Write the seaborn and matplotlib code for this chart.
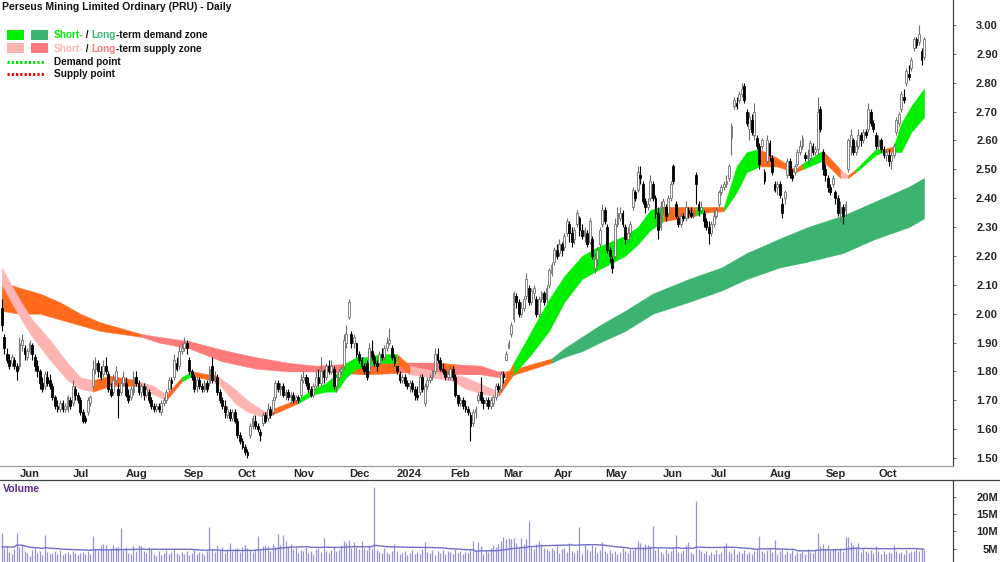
import numpy as np
import pandas as pd
import matplotlib
matplotlib.use('Agg')
import matplotlib.pyplot as plt
from matplotlib.lines import Line2D
from matplotlib.patches import Rectangle
import seaborn as sns

# --- DATA ---
FIRST_DAY, LAST_DAY = '2023-05-23', '2024-10-25'
ASX_HOLIDAYS = ['2023-06-12', '2023-12-25', '2023-12-26', '2024-01-01', '2024-01-26',
                '2024-03-29', '2024-04-01', '2024-04-25', '2024-06-10']
month_labels = ['Jun', 'Jul', 'Aug', 'Sep', 'Oct', 'Nov', 'Dec', '2024', 'Feb', 'Mar',
                'Apr', 'May', 'Jun', 'Jul', 'Aug', 'Sep', 'Oct']
price_ticks = [1.5, 1.6, 1.7, 1.8, 1.9, 2.0, 2.1, 2.2, 2.3, 2.4, 2.5, 2.6, 2.7, 2.8, 2.9, 3.0]
volume_ticks = [5, 10, 15, 20]

open_ = [2.02, 1.92, 1.86, 1.84, 1.83, 1.84, 1.82,
         1.82, 1.89, 1.88, 1.85, 1.87, 1.89, 1.85, 1.82, 1.80, 1.76, 1.75, 1.78, 1.77, 1.75, 1.71, 1.68, 1.67, 1.69, 1.67, 1.67, 1.70,
         1.69, 1.74, 1.72, 1.70, 1.66, 1.64, 1.66, 1.69, 1.75, 1.81, 1.83, 1.80, 1.79, 1.82, 1.79, 1.74, 1.73, 1.77, 1.74, 1.73, 1.76,
         1.76, 1.72, 1.71, 1.73, 1.78, 1.76, 1.73, 1.75, 1.72, 1.73, 1.70, 1.68, 1.67, 1.68, 1.66, 1.69, 1.70, 1.74, 1.77, 1.78, 1.83, 1.82, 1.87,
         1.88, 1.90, 1.84, 1.80, 1.78, 1.75, 1.77, 1.75, 1.74, 1.76, 1.76, 1.82, 1.77, 1.78, 1.73, 1.70, 1.68, 1.65, 1.66, 1.64, 1.66,
         1.63, 1.58, 1.56, 1.54, 1.52, 1.58, 1.61, 1.63, 1.61, 1.59, 1.62, 1.65, 1.64, 1.67, 1.66, 1.71, 1.76, 1.74, 1.75, 1.72, 1.73, 1.71,
         1.72, 1.70, 1.71, 1.72, 1.77, 1.78, 1.76, 1.74, 1.72, 1.75, 1.78, 1.76, 1.80, 1.78, 1.82, 1.80, 1.81, 1.75, 1.78, 1.80, 1.82, 1.90,
         1.99, 1.93, 1.90, 1.90, 1.86, 1.84, 1.82, 1.83, 1.80, 1.87, 1.85, 1.83, 1.83, 1.86, 1.85, 1.88, 1.90, 1.88, 1.85,
         1.82, 1.79, 1.77, 1.78, 1.76, 1.75, 1.76, 1.74, 1.72, 1.73, 1.78, 1.69, 1.75, 1.77, 1.78, 1.80, 1.86, 1.84, 1.81, 1.80, 1.78,
         1.78, 1.81, 1.78, 1.72, 1.69, 1.70, 1.68, 1.67, 1.65, 1.62, 1.66, 1.70, 1.73, 1.70, 1.69, 1.70, 1.68, 1.69, 1.71, 1.75, 1.74,
         1.79, 1.84, 1.88, 1.93, 1.98, 2.06, 2.04, 2.00, 2.02, 2.06, 2.09, 2.04, 2.07, 2.05, 2.00, 2.05, 2.07, 2.05, 2.10, 2.14,
         2.18, 2.22, 2.21, 2.24, 2.23, 2.28, 2.31, 2.28, 2.26, 2.31, 2.33, 2.29, 2.27, 2.28, 2.25, 2.26, 2.16, 2.19, 2.24, 2.31,
         2.36, 2.30, 2.22, 2.19, 2.20, 2.31, 2.33, 2.35, 2.30, 2.26, 2.28, 2.37, 2.42, 2.43, 2.48, 2.45, 2.39, 2.37, 2.40, 2.45,
         2.40, 2.35, 2.30, 2.37, 2.37, 2.35, 2.40, 2.51, 2.38, 2.33, 2.31, 2.34, 2.33, 2.36, 2.35, 2.34, 2.48, 2.38, 2.36, 2.35, 2.32, 2.30,
         2.28, 2.31, 2.34, 2.38, 2.42, 2.44, 2.45, 2.47, 2.61, 2.72, 2.73, 2.74, 2.76, 2.79, 2.70, 2.64, 2.67, 2.62, 2.61, 2.58, 2.58, 2.49, 2.53,
         2.59, 2.54, 2.45, 2.44, 2.45, 2.38, 2.40, 2.48, 2.53, 2.48, 2.49, 2.52, 2.56, 2.58, 2.55, 2.54, 2.54, 2.58, 2.56, 2.57, 2.71, 2.56,
         2.50, 2.47, 2.44, 2.45, 2.42, 2.40, 2.35, 2.37, 2.36, 2.50, 2.58, 2.60, 2.56, 2.58, 2.62, 2.60, 2.63, 2.64, 2.70, 2.66, 2.62,
         2.58, 2.60, 2.57, 2.55, 2.55, 2.53, 2.55, 2.63, 2.66, 2.71, 2.75, 2.80, 2.83, 2.85, 2.92, 2.95, 2.94, 2.91, 2.89]
high = [2.05, 1.93, 1.88, 1.86, 1.86, 1.85, 1.83,
        1.92, 1.93, 1.89, 1.88, 1.91, 1.90, 1.86, 1.84, 1.81, 1.78, 1.80, 1.80, 1.79, 1.76, 1.72, 1.70, 1.70, 1.70, 1.69, 1.72, 1.71,
        1.77, 1.75, 1.73, 1.71, 1.67, 1.65, 1.71, 1.72, 1.84, 1.85, 1.84, 1.82, 1.84, 1.85, 1.80, 1.76, 1.79, 1.82, 1.76, 1.77, 1.80,
        1.78, 1.74, 1.75, 1.80, 1.80, 1.77, 1.76, 1.76, 1.75, 1.74, 1.71, 1.69, 1.69, 1.69, 1.70, 1.71, 1.74, 1.78, 1.78, 1.86, 1.85, 1.89, 1.90,
        1.92, 1.91, 1.85, 1.81, 1.79, 1.78, 1.78, 1.76, 1.77, 1.77, 1.82, 1.85, 1.80, 1.79, 1.74, 1.71, 1.70, 1.68, 1.67, 1.67, 1.67,
        1.64, 1.59, 1.57, 1.55, 1.53, 1.62, 1.65, 1.65, 1.62, 1.60, 1.66, 1.66, 1.69, 1.68, 1.71, 1.77, 1.77, 1.76, 1.76, 1.74, 1.74, 1.73,
        1.73, 1.72, 1.72, 1.79, 1.80, 1.79, 1.78, 1.75, 1.76, 1.80, 1.81, 1.85, 1.81, 1.83, 1.84, 1.84, 1.82, 1.79, 1.81, 1.82, 1.93, 1.96,
        2.05, 1.94, 1.93, 1.90, 1.87, 1.85, 1.83, 1.84, 1.90, 1.91, 1.86, 1.84, 1.87, 1.88, 1.89, 1.92, 1.95, 1.89, 1.86,
        1.82, 1.80, 1.79, 1.79, 1.77, 1.77, 1.77, 1.75, 1.75, 1.79, 1.79, 1.76, 1.78, 1.79, 1.81, 1.88, 1.88, 1.85, 1.83, 1.81, 1.80,
        1.82, 1.82, 1.79, 1.72, 1.71, 1.71, 1.70, 1.68, 1.66, 1.67, 1.68, 1.73, 1.78, 1.71, 1.71, 1.71, 1.71, 1.72, 1.76, 1.76, 1.80,
        1.80, 1.87, 1.91, 1.97, 2.08, 2.07, 2.05, 2.04, 2.06, 2.14, 2.10, 2.09, 2.10, 2.06, 2.06, 2.08, 2.08, 2.10, 2.16, 2.18,
        2.23, 2.24, 2.26, 2.25, 2.28, 2.33, 2.32, 2.30, 2.30, 2.36, 2.34, 2.31, 2.30, 2.29, 2.33, 2.27, 2.21, 2.23, 2.30, 2.38,
        2.37, 2.31, 2.23, 2.20, 2.33, 2.37, 2.37, 2.36, 2.31, 2.30, 2.32, 2.44, 2.43, 2.51, 2.51, 2.46, 2.40, 2.40, 2.48, 2.46,
        2.41, 2.37, 2.39, 2.40, 2.38, 2.41, 2.46, 2.52, 2.39, 2.34, 2.35, 2.35, 2.39, 2.37, 2.37, 2.36, 2.49, 2.39, 2.39, 2.36, 2.33, 2.32,
        2.32, 2.36, 2.37, 2.43, 2.45, 2.46, 2.48, 2.52, 2.66, 2.75, 2.75, 2.77, 2.80, 2.80, 2.71, 2.70, 2.69, 2.73, 2.62, 2.59, 2.61, 2.50, 2.62,
        2.60, 2.55, 2.46, 2.46, 2.46, 2.40, 2.43, 2.54, 2.54, 2.50, 2.52, 2.57, 2.60, 2.62, 2.56, 2.57, 2.60, 2.59, 2.58, 2.75, 2.72, 2.57,
        2.52, 2.48, 2.45, 2.48, 2.43, 2.41, 2.39, 2.38, 2.39, 2.61, 2.64, 2.61, 2.60, 2.64, 2.63, 2.64, 2.64, 2.73, 2.71, 2.67, 2.63,
        2.62, 2.61, 2.58, 2.57, 2.57, 2.56, 2.59, 2.68, 2.70, 2.77, 2.78, 2.85, 2.86, 2.89, 2.96, 2.96, 3.00, 2.92, 2.96]
low = [1.94, 1.86, 1.83, 1.81, 1.82, 1.81, 1.77,
       1.81, 1.87, 1.84, 1.84, 1.86, 1.84, 1.80, 1.78, 1.74, 1.73, 1.74, 1.75, 1.74, 1.70, 1.67, 1.66, 1.66, 1.66, 1.66, 1.66, 1.67,
       1.68, 1.70, 1.69, 1.65, 1.62, 1.62, 1.65, 1.68, 1.74, 1.79, 1.78, 1.77, 1.78, 1.79, 1.73, 1.71, 1.72, 1.76, 1.64, 1.72, 1.75,
       1.71, 1.69, 1.70, 1.72, 1.75, 1.72, 1.71, 1.70, 1.71, 1.69, 1.67, 1.66, 1.66, 1.66, 1.65, 1.68, 1.69, 1.73, 1.74, 1.77, 1.80, 1.81, 1.86,
       1.87, 1.86, 1.79, 1.77, 1.73, 1.73, 1.74, 1.73, 1.73, 1.73, 1.75, 1.76, 1.76, 1.72, 1.69, 1.67, 1.64, 1.64, 1.63, 1.63, 1.62,
       1.57, 1.55, 1.53, 1.51, 1.50, 1.57, 1.60, 1.60, 1.59, 1.56, 1.61, 1.62, 1.63, 1.64, 1.65, 1.70, 1.73, 1.72, 1.71, 1.70, 1.70, 1.69,
       1.69, 1.69, 1.69, 1.71, 1.76, 1.75, 1.73, 1.71, 1.71, 1.74, 1.75, 1.75, 1.76, 1.77, 1.79, 1.79, 1.74, 1.73, 1.77, 1.79, 1.81, 1.88,
       1.98, 1.88, 1.88, 1.85, 1.83, 1.81, 1.79, 1.77, 1.79, 1.84, 1.82, 1.80, 1.82, 1.84, 1.84, 1.87, 1.89, 1.84, 1.82,
       1.79, 1.76, 1.76, 1.75, 1.74, 1.73, 1.73, 1.70, 1.70, 1.72, 1.73, 1.68, 1.74, 1.76, 1.77, 1.79, 1.83, 1.80, 1.79, 1.77, 1.77,
       1.77, 1.77, 1.71, 1.68, 1.68, 1.67, 1.66, 1.65, 1.56, 1.61, 1.64, 1.69, 1.69, 1.67, 1.68, 1.67, 1.67, 1.68, 1.70, 1.73, 1.73,
       1.76, 1.84, 1.88, 1.92, 1.97, 2.02, 1.99, 1.99, 2.01, 2.05, 2.03, 2.03, 2.05, 1.99, 1.99, 2.04, 2.03, 2.04, 2.09, 2.13,
       2.17, 2.19, 2.20, 2.20, 2.22, 2.27, 2.25, 2.23, 2.24, 2.30, 2.27, 2.26, 2.25, 2.23, 2.24, 2.19, 2.14, 2.17, 2.23, 2.30,
       2.31, 2.21, 2.18, 2.14, 2.19, 2.30, 2.32, 2.30, 2.24, 2.25, 2.27, 2.36, 2.39, 2.42, 2.45, 2.38, 2.35, 2.36, 2.39, 2.39,
       2.33, 2.26, 2.29, 2.35, 2.32, 2.34, 2.39, 2.45, 2.33, 2.30, 2.30, 2.32, 2.32, 2.33, 2.33, 2.33, 2.38, 2.34, 2.35, 2.30, 2.29, 2.24,
       2.27, 2.30, 2.33, 2.37, 2.41, 2.43, 2.44, 2.46, 2.55, 2.71, 2.71, 2.73, 2.75, 2.73, 2.65, 2.60, 2.62, 2.60, 2.57, 2.50, 2.57, 2.45, 2.52,
       2.53, 2.48, 2.42, 2.41, 2.40, 2.33, 2.38, 2.47, 2.47, 2.46, 2.48, 2.51, 2.55, 2.57, 2.53, 2.52, 2.53, 2.55, 2.55, 2.55, 2.63, 2.48,
       2.46, 2.42, 2.41, 2.44, 2.38, 2.34, 2.32, 2.31, 2.34, 2.49, 2.55, 2.55, 2.55, 2.57, 2.58, 2.59, 2.61, 2.63, 2.65, 2.63, 2.57,
       2.57, 2.56, 2.54, 2.53, 2.51, 2.50, 2.54, 2.62, 2.65, 2.70, 2.73, 2.79, 2.81, 2.84, 2.91, 2.92, 2.93, 2.86, 2.88]
close = [1.96, 1.88, 1.84, 1.82, 1.85, 1.82, 1.80,
         1.90, 1.91, 1.86, 1.87, 1.90, 1.86, 1.82, 1.80, 1.76, 1.74, 1.79, 1.76, 1.75, 1.71, 1.68, 1.67, 1.69, 1.67, 1.68, 1.71, 1.68,
         1.75, 1.72, 1.70, 1.66, 1.63, 1.63, 1.70, 1.71, 1.81, 1.83, 1.80, 1.78, 1.82, 1.80, 1.74, 1.72, 1.77, 1.80, 1.72, 1.76, 1.78,
         1.72, 1.70, 1.74, 1.78, 1.76, 1.73, 1.75, 1.72, 1.74, 1.70, 1.68, 1.67, 1.68, 1.67, 1.69, 1.70, 1.73, 1.77, 1.76, 1.84, 1.81, 1.87, 1.88,
         1.90, 1.88, 1.80, 1.78, 1.74, 1.77, 1.75, 1.74, 1.76, 1.74, 1.81, 1.77, 1.78, 1.73, 1.70, 1.68, 1.66, 1.67, 1.64, 1.66, 1.63,
         1.58, 1.56, 1.54, 1.52, 1.51, 1.61, 1.64, 1.61, 1.60, 1.58, 1.65, 1.63, 1.67, 1.65, 1.70, 1.76, 1.74, 1.75, 1.72, 1.73, 1.71, 1.72,
         1.70, 1.71, 1.70, 1.77, 1.78, 1.76, 1.74, 1.72, 1.75, 1.78, 1.76, 1.80, 1.78, 1.82, 1.80, 1.82, 1.75, 1.78, 1.80, 1.81, 1.91, 1.93,
         2.04, 1.90, 1.92, 1.86, 1.84, 1.82, 1.80, 1.78, 1.88, 1.85, 1.83, 1.82, 1.86, 1.85, 1.88, 1.90, 1.91, 1.85, 1.83,
         1.80, 1.77, 1.78, 1.76, 1.75, 1.76, 1.74, 1.72, 1.71, 1.78, 1.74, 1.75, 1.77, 1.78, 1.80, 1.86, 1.84, 1.81, 1.80, 1.78, 1.79,
         1.81, 1.78, 1.72, 1.69, 1.70, 1.68, 1.67, 1.66, 1.61, 1.66, 1.67, 1.72, 1.70, 1.69, 1.70, 1.68, 1.70, 1.71, 1.75, 1.74, 1.79,
         1.78, 1.86, 1.90, 1.96, 2.07, 2.04, 2.00, 2.02, 2.05, 2.12, 2.04, 2.08, 2.09, 2.00, 2.05, 2.07, 2.04, 2.09, 2.15, 2.17,
         2.22, 2.20, 2.24, 2.22, 2.27, 2.32, 2.28, 2.25, 2.29, 2.35, 2.29, 2.27, 2.29, 2.24, 2.32, 2.20, 2.19, 2.22, 2.29, 2.36,
         2.32, 2.22, 2.20, 2.16, 2.31, 2.35, 2.35, 2.31, 2.26, 2.28, 2.31, 2.43, 2.40, 2.49, 2.47, 2.39, 2.37, 2.38, 2.46, 2.40,
         2.35, 2.29, 2.37, 2.39, 2.34, 2.40, 2.45, 2.46, 2.34, 2.31, 2.34, 2.33, 2.37, 2.35, 2.34, 2.35, 2.45, 2.36, 2.37, 2.32, 2.30, 2.28,
         2.31, 2.34, 2.36, 2.42, 2.44, 2.45, 2.46, 2.51, 2.65, 2.74, 2.72, 2.76, 2.78, 2.74, 2.66, 2.68, 2.63, 2.70, 2.58, 2.52, 2.60, 2.46, 2.60,
         2.55, 2.49, 2.43, 2.45, 2.41, 2.35, 2.42, 2.53, 2.48, 2.47, 2.51, 2.56, 2.58, 2.61, 2.54, 2.55, 2.59, 2.56, 2.57, 2.70, 2.64, 2.50,
         2.48, 2.44, 2.42, 2.47, 2.40, 2.35, 2.37, 2.34, 2.38, 2.60, 2.62, 2.56, 2.58, 2.62, 2.60, 2.63, 2.62, 2.71, 2.66, 2.64, 2.58,
         2.60, 2.57, 2.55, 2.56, 2.53, 2.55, 2.58, 2.67, 2.69, 2.76, 2.74, 2.84, 2.82, 2.88, 2.95, 2.93, 2.97, 2.88, 2.95]
volume_m = [9.5, 5.2, 5.8, 4.1, 3.6, 4.8, 9.6,
            5.5, 6.0, 4.2, 3.8, 3.0, 4.6, 5.1, 3.9, 4.4, 3.3, 9.0, 4.0, 3.4, 3.9, 4.2, 3.6, 4.5, 3.1, 3.8, 4.0, 3.5,
            4.3, 3.9, 3.2, 3.8, 4.1, 3.6, 4.4, 3.4, 8.6, 5.0, 4.7, 6.0, 6.3, 6.2, 4.8, 5.1, 6.1, 5.5, 5.6, 11.0, 4.6,
            5.4, 3.9, 3.4, 5.8, 4.4, 6.0, 5.9, 4.3, 3.8, 5.5, 4.9, 3.6, 3.0, 4.2, 3.3, 3.8, 4.6, 3.5, 4.0, 4.8, 3.7, 3.1, 4.1,
            3.6, 4.3, 3.2, 3.9, 4.5, 3.4, 4.1, 3.7, 3.3, 4.4, 11.3, 5.0, 4.1, 6.2, 4.6, 5.4, 3.9, 4.8, 6.6, 4.2, 5.0,
            5.3, 4.0, 5.5, 6.1, 5.2, 4.5, 4.1, 5.0, 8.7, 4.6, 5.9, 6.0, 5.8, 4.3, 6.3, 5.6, 9.2, 6.0, 8.9, 7.1, 5.4, 6.4,
            4.8, 5.6, 3.9, 4.7, 4.2, 5.5, 3.8, 4.4, 3.6, 4.9, 5.1, 4.0, 8.0, 4.3, 3.9, 4.7, 5.4, 4.2, 4.6, 6.0, 7.2, 6.6,
            7.5, 5.1, 6.8, 5.5, 4.8, 7.3, 5.2, 4.5, 6.1, 5.0, 22.8, 4.6, 4.0, 3.7, 5.3, 4.1, 3.6, 4.2, 6.5,
            4.3, 3.5, 3.9, 4.4, 3.2, 3.8, 4.6, 3.4, 4.0, 3.6, 4.8, 7.0, 4.1, 3.7, 4.5, 3.3, 4.2, 3.9, 4.7, 3.5, 4.4,
            4.0, 3.6, 4.9, 3.8, 4.3, 3.5, 4.1, 3.9, 4.5, 7.3, 4.2, 7.0, 5.8, 3.6, 4.7, 4.0, 5.2, 6.0, 5.5, 6.3, 7.2,
            8.3, 7.9, 8.1, 7.8, 8.0, 6.6, 5.6, 8.2, 6.4, 7.8, 13.0, 5.4, 4.9, 6.3, 7.1, 6.5, 5.2, 4.8, 4.4, 5.3,
            4.6, 6.0, 3.9, 4.8, 5.2, 4.1, 6.7, 4.3, 3.8, 4.5, 11.4, 3.6, 6.4, 5.0, 4.2, 6.1, 5.6, 3.8, 4.7, 7.0,
            4.2, 3.9, 4.6, 3.7, 4.3, 3.5, 4.0, 5.1, 4.4, 3.8, 5.0, 4.6, 5.3, 7.2, 6.6, 5.4, 6.4, 6.0, 5.8, 11.6,
            4.5, 5.2, 4.0, 3.6, 4.8, 3.9, 4.3, 5.5, 9.0, 4.1, 3.7, 4.6, 6.2, 6.8, 4.0, 3.5, 18.8, 4.9, 4.2, 3.8, 4.4, 3.3,
            4.0, 3.6, 4.5, 3.4, 4.1, 5.9, 6.6, 4.2, 3.9, 4.8, 3.5, 4.3, 3.8, 4.7, 3.6, 4.1, 3.4, 4.4, 5.0, 8.7, 4.2, 3.7, 4.6,
            5.3, 4.0, 7.5, 3.6, 4.4, 4.9, 3.5, 4.2, 3.8, 4.5, 3.3, 4.0, 3.7, 4.3, 3.6, 4.8, 4.1, 3.9, 4.6, 9.5, 5.8, 6.4,
            5.0, 6.2, 4.6, 4.8, 5.3, 4.2, 5.1, 4.4, 8.5, 8.4, 7.0, 6.2, 5.4, 6.6, 4.1, 5.0, 4.3, 3.9, 4.6, 3.7, 5.9,
            4.2, 3.6, 4.4, 3.5, 4.0, 3.8, 6.0, 4.3, 3.7, 4.1, 3.5, 4.6, 3.9, 4.2, 4.4, 5.0, 4.3, 5.3, 4.6]

# short-term zone edges read at these bar numbers; state D=demand, S=supply, N=neutral
short_bar = [0, 7, 12, 19, 26, 31, 36, 43, 53, 60, 65, 71, 75, 85, 92, 97, 104, 117, 123, 128,
             132, 136, 140, 145, 150, 156, 161, 177, 183, 191, 196, 202, 209, 216, 222, 229, 235, 246, 251, 256,
             261, 274, 277, 285, 290, 294, 299, 306, 313, 316, 324, 331, 334, 337, 345, 348, 352, 355, 359, 364]
short_top = [2.16, 2.05, 1.98, 1.91, 1.83, 1.78, 1.77, 1.785, 1.77, 1.75, 1.72, 1.78, 1.80, 1.785, 1.74, 1.70, 1.66, 1.705, 1.74, 1.76,
             1.79, 1.83, 1.85, 1.85, 1.86, 1.86, 1.82, 1.79, 1.78, 1.75, 1.73, 1.83, 1.94, 2.05, 2.13, 2.20, 2.23, 2.27, 2.30, 2.36,
             2.37, 2.37, 2.37, 2.37, 2.51, 2.56, 2.57, 2.54, 2.50, 2.52, 2.565, 2.50, 2.48, 2.50, 2.57, 2.57, 2.58, 2.66, 2.72, 2.78]
short_bot = [2.10, 1.99, 1.92, 1.84, 1.77, 1.74, 1.73, 1.75, 1.75, 1.72, 1.70, 1.765, 1.785, 1.765, 1.69, 1.66, 1.64, 1.69, 1.72, 1.73,
             1.73, 1.78, 1.81, 1.82, 1.83, 1.83, 1.79, 1.77, 1.74, 1.72, 1.715, 1.79, 1.86, 1.94, 2.04, 2.12, 2.15, 2.20, 2.24, 2.29,
             2.32, 2.34, 2.35, 2.355, 2.42, 2.49, 2.51, 2.51, 2.49, 2.50, 2.53, 2.47, 2.47, 2.49, 2.55, 2.56, 2.56, 2.56, 2.63, 2.68]
short_state = ['S', 'S', 'S', 'S', 'S', 'S', 'N', 'N', 'S', 'S', 'N', 'D', 'N', 'S', 'S', 'S', 'N', 'D', 'D', 'D',
               'D', 'D', 'D', 'D', 'D', 'N', 'S', 'S', 'S', 'S', 'N', 'D', 'D', 'D', 'D', 'D', 'D', 'D', 'D', 'D',
               'N', 'D', 'N', 'D', 'D', 'D', 'N', 'N', 'N', 'D', 'N', 'S', 'N', 'D', 'D', 'N', 'D', 'D', 'D', 'D']

long_bar = [0, 7, 15, 23, 31, 39, 47, 55, 62, 74, 87, 100, 113, 124, 134, 143, 157, 173, 179, 189,
            196, 199, 217, 222, 229, 236, 246, 257, 271, 284, 294, 307, 318, 332, 345, 358, 364]
long_top = [2.11, 2.09, 2.07, 2.04, 2.00, 1.97, 1.95, 1.93, 1.92, 1.905, 1.875, 1.85, 1.83, 1.82, 1.825, 1.83, 1.83, 1.83, 1.825, 1.82,
            1.80, 1.80, 1.845, 1.88, 1.92, 1.96, 2.01, 2.07, 2.12, 2.16, 2.21, 2.26, 2.30, 2.34, 2.39, 2.44, 2.47]
long_bot = [2.01, 2.00, 2.00, 1.98, 1.96, 1.94, 1.93, 1.92, 1.90, 1.88, 1.835, 1.81, 1.80, 1.80, 1.795, 1.79, 1.795, 1.795, 1.79, 1.79,
            1.78, 1.78, 1.83, 1.85, 1.87, 1.90, 1.94, 2.00, 2.04, 2.08, 2.12, 2.16, 2.18, 2.21, 2.26, 2.30, 2.33]
long_state = ['N', 'N', 'N', 'N', 'N', 'N', 'N', 'S', 'S', 'S', 'S', 'S', 'S', 'S', 'N', 'N', 'S', 'N', 'S', 'S',
              'S', 'N', 'D', 'D', 'D', 'D', 'D', 'D', 'D', 'D', 'D', 'D', 'D', 'D', 'D', 'D', 'D']

# --- STYLE ---
W, H = 1000, 562
SHORT_COLORS = {'D': '#00f000', 'S': '#ffb4b4', 'N': '#ff6a1c'}
LONG_COLORS = {'D': '#3cb371', 'S': '#ff7a7a', 'N': '#ff6a1c'}
FONT = ['Liberation Sans', 'DejaVu Sans']


def fx(x):
    return x / W


def fy(y):
    return 1 - y / H


def draw_zone(ax, bars, top, bot, states, colors):
    # one polygon per run of equal state
    i = 0
    n = len(bars)
    while i < n - 1:
        j = i
        while j < n - 2 and states[j + 1] == states[i]:
            j += 1
        c = colors[states[i]]
        ax.fill_between(bars[i:j + 2], bot[i:j + 2], top[i:j + 2], color=c, ec=c, lw=0.3, zorder=1)
        i = j + 1


def color_text(fig, x, y, parts, size):
    r = fig.canvas.get_renderer()
    for s, c in parts:
        t = fig.text(fx(x), fy(y), s, color=c, fontsize=size, fontweight='bold', va='center', ha='left')
        x += t.get_window_extent(renderer=r).width


def main():
    sns.set_theme(style='white')
    plt.rcParams['font.family'] = FONT

    dates = pd.bdate_range(FIRST_DAY, LAST_DAY)
    dates = dates[~dates.isin(pd.to_datetime(ASX_HOLIDAYS))]
    df = pd.DataFrame({'date': dates, 'open': open_, 'high': high, 'low': low,
                       'close': close, 'volume': volume_m})
    df['x'] = np.arange(len(df))
    df['vol_ma'] = df['volume'].rolling(40, min_periods=6).mean().bfill()

    month_pos = df.index[df['date'].dt.month != df['date'].dt.month.shift()].tolist()[1:]

    fig = plt.figure(figsize=(W / 100, H / 100), dpi=100)
    ax = fig.add_axes([0, fy(466), fx(953), 466 / H])
    axv = fig.add_axes([0, 0, fx(953), 82 / H])

    px_per_bar = 2.534
    xlim = (-1.7 / px_per_bar, (953 - 1.7) / px_per_bar)

    # zones
    draw_zone(ax, long_bar, long_top, long_bot, long_state, LONG_COLORS)
    draw_zone(ax, short_bar, short_top, short_bot, short_state, SHORT_COLORS)

    # candles
    up = df['close'] >= df['open']
    ax.vlines(df.loc[up, 'x'], df.loc[up, 'low'], df.loc[up, 'high'], color='#707070', lw=0.8, zorder=3)
    ax.vlines(df.loc[~up, 'x'], df.loc[~up, 'low'], df.loc[~up, 'high'], color='black', lw=0.8, zorder=3)
    body = (df['close'] - df['open']).abs().clip(lower=0.004)
    bottom = df[['open', 'close']].min(axis=1)
    ax.bar(df.loc[up, 'x'], body[up], bottom=bottom[up], width=0.72, color='white',
           edgecolor='#707070', linewidth=0.6, zorder=4)
    ax.bar(df.loc[~up, 'x'], body[~up], bottom=bottom[~up], width=0.72, color='black',
           edgecolor='black', linewidth=0.6, zorder=4)

    ax.set_xlim(*xlim)
    ax.set_ylim(3.0 - 441 / 288.7, 3.0 + 25 / 288.7)
    ax.yaxis.tick_right()
    ax.set_yticks(price_ticks, [f'{v:.2f}' for v in price_ticks])
    ax.set_xticks(month_pos, month_labels)
    ax.tick_params(axis='y', direction='out', length=2, width=0.6, color='#555555', pad=30.4, labelsize=8)
    ax.tick_params(axis='x', direction='out', length=2, width=0.6, color='#888888', pad=0.5, labelsize=8)
    for lab in ax.get_yticklabels():
        lab.set_ha('right')
        lab.set_fontweight('bold')
    for lab in ax.get_xticklabels():
        lab.set_ha('left')
        lab.set_fontweight('bold')
    for side in ['top', 'left']:
        ax.spines[side].set_visible(False)
    ax.spines['right'].set_color('#404040')
    ax.spines['right'].set_linewidth(0.9)
    ax.spines['bottom'].set_color('#9a9a9a')
    ax.spines['bottom'].set_linewidth(0.9)
    ax.grid(False)
    ax.set_xlabel('')
    ax.set_ylabel('')

    # volume
    axv.vlines(df['x'], 0, df['volume'], color='#9494dc', lw=0.9, zorder=2)
    sns.lineplot(data=df, x='x', y='vol_ma', ax=axv, color='#7070cc', lw=1.0, zorder=3)
    axv.set_xlim(*xlim)
    axv.set_ylim(1.156, 24.86)
    axv.yaxis.tick_right()
    axv.set_yticks(volume_ticks, [f'{v}M' for v in volume_ticks])
    axv.set_xticks([])
    axv.tick_params(axis='y', direction='out', length=2, width=0.6, color='#555555', pad=30.4, labelsize=8)
    for lab in axv.get_yticklabels():
        lab.set_ha('right')
        lab.set_fontweight('bold')
    for side in ['top', 'left', 'bottom']:
        axv.spines[side].set_visible(False)
    axv.spines['right'].set_color('#404040')
    axv.spines['right'].set_linewidth(0.9)
    axv.grid(False)
    axv.set_xlabel('')
    axv.set_ylabel('')
    fig.add_artist(Line2D([0, 1], [fy(480), fy(480)], transform=fig.transFigure, color='#404040', lw=0.9))
    fig.text(fx(3), fy(489), 'Volume', color='#5b2a8c', fontsize=7.6, fontweight='bold', va='center')

    # title + legend
    fig.text(fx(2), fy(7.5), 'Perseus Mining Limited Ordinary (PRU) - Daily', fontsize=7.5,
             fontweight='bold', va='center', color='#111111')
    for (x0, y0, c) in [(7, 30, SHORT_COLORS['D']), (31, 30, LONG_COLORS['D']),
                        (7, 43, SHORT_COLORS['S']), (31, 43, LONG_COLORS['S'])]:
        fig.add_artist(Rectangle((fx(x0), fy(y0 + 10)), 17 / W, 10 / H, transform=fig.transFigure,
                                 color=c, lw=0))
    color_text(fig, 54, 35, [('Short-', SHORT_COLORS['D']), (' / ', '#111111'), ('Long', LONG_COLORS['D']),
                             ('-term demand zone', '#111111')], 7.2)
    color_text(fig, 54, 48.5, [('Short-', SHORT_COLORS['S']), (' / ', '#111111'), ('Long', LONG_COLORS['S']),
                               ('-term supply zone', '#111111')], 7.2)
    fig.add_artist(Line2D([fx(7), fx(44)], [fy(62), fy(62)], transform=fig.transFigure, color='#00e000',
                          lw=2.2, linestyle=(0, (0.7, 0.7))))
    fig.add_artist(Line2D([fx(7), fx(44)], [fy(74), fy(74)], transform=fig.transFigure, color='#ee0000',
                          lw=2.2, linestyle=(0, (0.7, 0.7))))
    fig.text(fx(54), fy(61.7), 'Demand point', fontsize=7.2, fontweight='bold', va='center', color='#111111')
    fig.text(fx(54), fy(74), 'Supply point', fontsize=7.2, fontweight='bold', va='center', color='#111111')

    fig.savefig('out.png', dpi=100)


if __name__ == '__main__':
    main()
